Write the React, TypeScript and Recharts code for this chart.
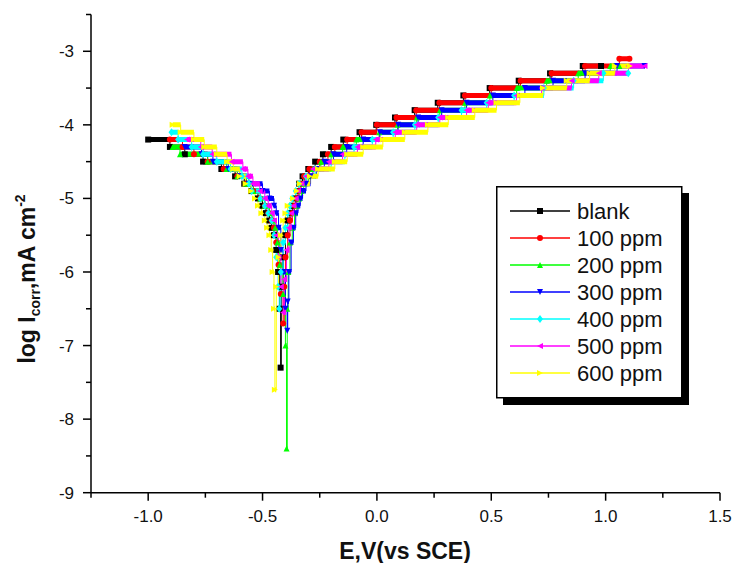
import React from "react";
import { LineChart, Line, XAxis, YAxis, Legend, Label } from "recharts";

// potential (V vs SCE) at which each log I step starts, and the step level
const blankE = [-1.0, -0.905, -0.84, -0.76, -0.68, -0.62, -0.58, -0.55, -0.52, -0.5, -0.485, -0.47, -0.46, -0.45, -0.44, -0.432, -0.425, -0.421, -0.418, -0.41, -0.4, -0.39, -0.38, -0.37, -0.355, -0.345, -0.34, -0.325, -0.3, -0.27, -0.236, -0.2, -0.147, -0.076, -0.003, 0.079, 0.165, 0.266, 0.378, 0.493, 0.62, 0.757, 0.9, 0.98];
const blankLog = [-4.2, -4.3, -4.4, -4.5, -4.6, -4.7, -4.8, -4.9, -5.0, -5.1, -5.2, -5.3, -5.4, -5.5, -5.7, -6.0, -6.5, -7.3, -6.2, -5.8, -5.5, -5.3, -5.2, -5.1, -5.0, -4.9, -4.8, -4.7, -4.6, -4.5, -4.4, -4.3, -4.2, -4.1, -4.0, -3.9, -3.8, -3.7, -3.6, -3.5, -3.4, -3.3, -3.2, -3.2];

const ppm100E = [-0.905, -0.85, -0.8, -0.74, -0.67, -0.61, -0.57, -0.54, -0.51, -0.49, -0.475, -0.46, -0.45, -0.44, -0.43, -0.42, -0.41, -0.405, -0.4, -0.39, -0.38, -0.37, -0.36, -0.35, -0.34, -0.335, -0.318, -0.295, -0.25, -0.214, -0.184, -0.13, -0.067, 0.0, 0.086, 0.172, 0.273, 0.385, 0.5, 0.628, 0.764, 0.91, 1.06, 1.104];
const ppm100Log = [-4.2, -4.3, -4.4, -4.5, -4.6, -4.7, -4.8, -4.9, -5.0, -5.1, -5.2, -5.3, -5.4, -5.6, -5.9, -6.3, -6.7, -6.2, -5.8, -5.5, -5.3, -5.2, -5.1, -5.0, -4.9, -4.8, -4.7, -4.6, -4.5, -4.4, -4.3, -4.2, -4.1, -4.0, -3.9, -3.8, -3.7, -3.6, -3.5, -3.4, -3.3, -3.2, -3.1, -3.1];

const ppm200E = [-0.893, -0.861, -0.74, -0.657, -0.61, -0.57, -0.54, -0.51, -0.49, -0.47, -0.455, -0.445, -0.435, -0.425, -0.41, -0.4, -0.395, -0.392, -0.388, -0.38, -0.37, -0.36, -0.35, -0.34, -0.33, -0.32, -0.3, -0.28, -0.245, -0.2, -0.15, -0.09, 0.01, 0.09, 0.174, 0.275, 0.385, 0.494, 0.611, 0.742, 0.88, 1.02, 1.06];
const ppm200Log = [-4.3, -4.4, -4.5, -4.6, -4.7, -4.8, -4.9, -5.0, -5.1, -5.2, -5.3, -5.4, -5.6, -5.9, -6.3, -7.0, -8.4, -6.5, -6.0, -5.6, -5.4, -5.2, -5.1, -5.0, -4.9, -4.8, -4.7, -4.6, -4.5, -4.4, -4.3, -4.2, -4.1, -4.0, -3.9, -3.8, -3.7, -3.6, -3.5, -3.4, -3.3, -3.2, -3.2];

const ppm300E = [-0.84, -0.767, -0.717, -0.65, -0.6, -0.56, -0.5, -0.47, -0.45, -0.44, -0.43, -0.42, -0.41, -0.4, -0.392, -0.39, -0.385, -0.375, -0.365, -0.355, -0.345, -0.335, -0.325, -0.31, -0.29, -0.265, -0.23, -0.19, -0.132, -0.06, 0.013, 0.093, 0.18, 0.283, 0.392, 0.507, 0.647, 0.77, 0.91, 1.05, 1.17];
const ppm300Log = [-4.3, -4.4, -4.5, -4.6, -4.7, -4.8, -4.9, -5.0, -5.1, -5.2, -5.4, -5.7, -6.0, -6.5, -6.8, -6.4, -6.0, -5.6, -5.4, -5.2, -5.1, -5.0, -4.9, -4.8, -4.7, -4.6, -4.5, -4.4, -4.3, -4.2, -4.1, -4.0, -3.9, -3.8, -3.7, -3.6, -3.5, -3.4, -3.3, -3.2, -3.2];

const ppm400E = [-0.898, -0.869, -0.81, -0.76, -0.7, -0.64, -0.59, -0.56, -0.548, -0.51, -0.49, -0.475, -0.46, -0.45, -0.44, -0.432, -0.427, -0.42, -0.41, -0.4, -0.39, -0.38, -0.37, -0.355, -0.34, -0.31, -0.27, -0.2, -0.14, -0.1, -0.02, 0.071, 0.166, 0.268, 0.37, 0.48, 0.6, 0.73, 0.86, 0.99, 1.099];
const ppm400Log = [-4.1, -4.2, -4.3, -4.4, -4.5, -4.6, -4.7, -4.8, -4.9, -5.0, -5.1, -5.2, -5.3, -5.5, -5.8, -6.2, -6.5, -6.0, -5.6, -5.4, -5.2, -5.1, -5.0, -4.9, -4.8, -4.7, -4.6, -4.5, -4.4, -4.3, -4.2, -4.1, -4.0, -3.9, -3.8, -3.7, -3.6, -3.5, -3.4, -3.3, -3.3];

const ppm500E = [-0.83, -0.77, -0.72, -0.636, -0.586, -0.564, -0.542, -0.512, -0.49, -0.475, -0.46, -0.45, -0.44, -0.43, -0.42, -0.41, -0.405, -0.395, -0.385, -0.375, -0.365, -0.355, -0.345, -0.33, -0.31, -0.28, -0.21, -0.15, -0.085, -0.005, 0.08, 0.174, 0.275, 0.392, 0.487, 0.61, 0.72, 0.851, 0.97, 1.1, 1.17];
const ppm500Log = [-4.2, -4.3, -4.4, -4.5, -4.6, -4.7, -4.8, -4.9, -5.0, -5.1, -5.2, -5.3, -5.5, -5.8, -6.2, -6.55, -6.1, -5.7, -5.4, -5.2, -5.1, -5.0, -4.9, -4.8, -4.7, -4.6, -4.5, -4.4, -4.3, -4.2, -4.1, -4.0, -3.9, -3.8, -3.7, -3.6, -3.5, -3.4, -3.3, -3.2, -3.2];

const ppm600E = [-0.893, -0.858, -0.8, -0.755, -0.7, -0.655, -0.628, -0.6, -0.574, -0.55, -0.533, -0.52, -0.505, -0.49, -0.48, -0.47, -0.462, -0.456, -0.45, -0.446, -0.44, -0.43, -0.42, -0.41, -0.4, -0.39, -0.367, -0.35, -0.337, -0.293, -0.257, -0.184, -0.13, -0.06, 0.026, 0.122, 0.223, 0.312, 0.428, 0.523, 0.625, 0.726, 0.83, 0.93, 1.04, 1.106];
const ppm600Log = [-4.0, -4.1, -4.2, -4.3, -4.4, -4.5, -4.6, -4.7, -4.8, -4.9, -5.0, -5.1, -5.2, -5.3, -5.4, -5.5, -5.7, -6.0, -6.5, -7.6, -6.2, -5.8, -5.5, -5.3, -5.2, -5.1, -5.0, -4.9, -4.8, -4.7, -4.6, -4.5, -4.4, -4.3, -4.2, -4.1, -4.0, -3.9, -3.8, -3.7, -3.6, -3.5, -3.4, -3.3, -3.2, -3.2];

const seriesNames = ["blank", "100 ppm", "200 ppm", "300 ppm", "400 ppm", "500 ppm", "600 ppm"];
const seriesColors = ["#000000", "#ff0000", "#00ff00", "#0000ff", "#00ffff", "#ff00ff", "#ffff00"];
const seriesShapes = ["square", "circle", "up", "down", "diamond", "left", "right"];
const seriesE = [blankE, ppm100E, ppm200E, ppm300E, ppm400E, ppm500E, ppm600E];
const seriesLog = [blankLog, ppm100Log, ppm200Log, ppm300Log, ppm400Log, ppm500Log, ppm600Log];

const xTicks = [-1.25, -1.0, -0.75, -0.5, -0.25, 0, 0.25, 0.5, 0.75, 1.0, 1.25, 1.5];
const yTicks = [-9, -8.5, -8, -7.5, -7, -6.5, -6, -5.5, -5, -4.5, -4, -3.5, -3, -2.5];

const FONT = "'Liberation Sans', Arial, sans-serif";

// corner points of the staircase
function stairs(E: number[], L: number[]) {
  const pts: any[] = [];
  E.forEach((e, i) => {
    if (i > 0) pts.push({ x: e, y: L[i - 1], mark: false });
    pts.push({ x: e, y: L[i], mark: true });
  });
  return pts;
}

// horizontal runs of the staircase, broken by nulls
function runs(E: number[], L: number[]) {
  const pts: any[] = [];
  for (let i = 0; i < E.length - 1; i++) {
    pts.push({ x: E[i], y: L[i] }, { x: E[i + 1], y: L[i] }, { x: E[i + 1], y: null });
  }
  return pts;
}

function Marker({ shape, cx, cy, color, r = 3 }: any) {
  switch (shape) {
    case "square":
      return <rect x={cx - r} y={cy - r} width={2 * r} height={2 * r} fill={color} />;
    case "circle":
      return <circle cx={cx} cy={cy} r={r} fill={color} />;
    case "up":
      return <polygon points={`${cx},${cy - r} ${cx + r},${cy + r} ${cx - r},${cy + r}`} fill={color} />;
    case "down":
      return <polygon points={`${cx},${cy + r} ${cx + r},${cy - r} ${cx - r},${cy - r}`} fill={color} />;
    case "diamond":
      return <polygon points={`${cx},${cy - r - 1} ${cx + r},${cy} ${cx},${cy + r + 1} ${cx - r},${cy}`} fill={color} />;
    case "left":
      return <polygon points={`${cx - r},${cy} ${cx + r},${cy - r} ${cx + r},${cy + r}`} fill={color} />;
    default:
      return <polygon points={`${cx + r},${cy} ${cx - r},${cy - r} ${cx - r},${cy + r}`} fill={color} />;
  }
}

function XTick({ x, y, payload }: any) {
  const v = payload.value;
  const major = Math.abs(v * 2 - Math.round(v * 2)) < 1e-6;
  return (
    <g>
      <line x1={x} x2={x} y1={y} y2={y + (major ? 8 : 5)} stroke="#000" strokeWidth={1.5} />
      {major && (
        <text x={x} y={y + 29} textAnchor="middle" fontSize={17} fontFamily={FONT} fill="#111">
          {v.toFixed(1)}
        </text>
      )}
    </g>
  );
}

function YTick({ x, y, payload }: any) {
  const v = payload.value;
  const major = Number.isInteger(v);
  return (
    <g>
      <line x1={x - (major ? 8 : 5)} x2={x} y1={y} y2={y} stroke="#000" strokeWidth={1.5} />
      {major && (
        <text x={x - 17} y={y + 6} textAnchor="end" fontSize={17} fontFamily={FONT} fill="#111">
          {v}
        </text>
      )}
    </g>
  );
}

function LegendBox() {
  return (
    <svg width={194} height={222} style={{ display: "block" }}>
      <rect x={7} y={7} width={186} height={212} fill="#000" />
      <rect x={0.75} y={0.75} width={185} height={211} fill="#fff" stroke="#000" strokeWidth={1.5} />
      {seriesNames.map((name, i) => {
        const cy = 25 + i * 27;
        return (
          <g key={name}>
            <line x1={14} x2={74} y1={cy} y2={cy} stroke={seriesColors[i]} strokeWidth={1.5} />
            <Marker shape={seriesShapes[i]} cx={44} cy={cy} color={seriesColors[i]} />
            <text x={81} y={cy + 8} fontSize={22} fontFamily={FONT} fill="#111">
              {name}
            </text>
          </g>
        );
      })}
    </svg>
  );
}

export default function App() {
  const lines: React.ReactNode[] = [];
  seriesNames.forEach((name, i) => {
    const color = seriesColors[i];
    const shape = seriesShapes[i];
    lines.push(
      <Line
        key={`${name}-runs`}
        data={runs(seriesE[i], seriesLog[i])}
        dataKey="y"
        type="linear"
        stroke={color}
        strokeWidth={5}
        strokeLinecap="butt"
        dot={false}
        activeDot={false}
        legendType="none"
        isAnimationActive={false}
      />
    );
    lines.push(
      <Line
        key={`${name}-line`}
        data={stairs(seriesE[i], seriesLog[i])}
        dataKey="y"
        name={name}
        type="linear"
        stroke={color}
        strokeWidth={1}
        activeDot={false}
        dot={(p: any) => (
          <g key={`${name}-dot-${p.index}`}>
            {p.payload && p.payload.mark ? <Marker shape={shape} cx={p.cx} cy={p.cy} color={color} /> : null}
          </g>
        )}
        isAnimationActive={false}
      />
    );
  });

  return (
    <div style={{ position: "absolute", left: 0, top: 0, width: 734, height: 563, background: "#fff" }}>
      <LineChart width={734} height={563} margin={{ top: 14.5, right: 14, left: 0, bottom: 0 }}>
        <XAxis
          type="number"
          dataKey="x"
          domain={[-1.25, 1.5]}
          ticks={xTicks}
          interval={0}
          allowDataOverflow
          height={70.3}
          tickSize={0}
          tickMargin={0}
          tickLine={false}
          axisLine={{ stroke: "#000", strokeWidth: 1.5 }}
          tick={<XTick />}
        >
          <Label
            content={() => (
              <text x={405} y={559} textAnchor="middle" fontSize={23} fontWeight="bold" fontFamily={FONT} fill="#111">
                E,V(vs SCE)
              </text>
            )}
          />
        </XAxis>
        <YAxis
          type="number"
          domain={[-9, -2.5]}
          ticks={yTicks}
          interval={0}
          allowDataOverflow
          width={91}
          tickSize={0}
          tickMargin={0}
          tickLine={false}
          axisLine={{ stroke: "#000", strokeWidth: 1.5 }}
          tick={<YTick />}
        >
          <Label
            content={() => (
              <text
                transform="translate(35,279) rotate(-90)"
                textAnchor="middle"
                fontSize={23}
                fontWeight="bold"
                fontFamily={FONT}
                fill="#111"
              >
                log I<tspan fontSize={14} dy={5}>corr</tspan>
                <tspan dy={-5}>,mA cm</tspan>
                <tspan fontSize={14} dy={-10}>-2</tspan>
              </text>
            )}
          />
        </YAxis>
        {lines}
        <Legend
          layout="vertical"
          align="center"
          verticalAlign="middle"
          wrapperStyle={{ left: 496, top: 186, width: 194, height: 222 }}
          content={() => <LegendBox />}
        />
      </LineChart>
    </div>
  );
}
